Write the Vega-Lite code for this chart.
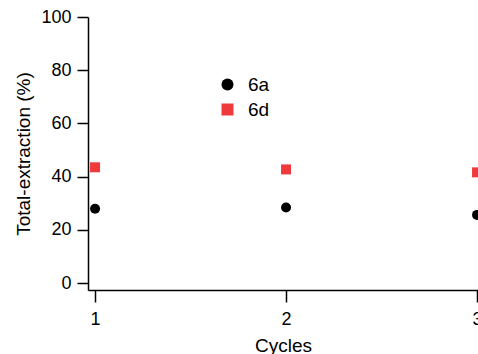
{
  "$schema": "https://vega.github.io/schema/vega-lite/v6.json",
  "autosize": {"type": "none"},
  "width": 390,
  "height": 273,
  "padding": {"left": 88, "top": 17, "right": 0, "bottom": 64},
  "background": "white",
  "config": {
    "view": {"stroke": null},
    "font": "Liberation Sans",
    "axis": {
      "domainColor": "black",
      "domainWidth": 1.5,
      "tickColor": "black",
      "tickWidth": 1.5,
      "labelColor": "black",
      "titleColor": "black",
      "labelFont": "Liberation Sans",
      "titleFont": "Liberation Sans",
      "labelFontSize": 18,
      "titleFontSize": 19,
      "titleFontWeight": "normal",
      "grid": false
    },
    "legend": {
      "labelFont": "Liberation Sans",
      "labelFontSize": 19,
      "labelColor": "black"
    }
  },
  "data": {
    "values": [
      {"cycle": 1, "extraction": 27.9, "sample": "6a"},
      {"cycle": 2, "extraction": 28.4, "sample": "6a"},
      {"cycle": 3, "extraction": 25.6, "sample": "6a"},
      {"cycle": 1, "extraction": 43.5, "sample": "6d"},
      {"cycle": 2, "extraction": 42.7, "sample": "6d"},
      {"cycle": 3, "extraction": 41.6, "sample": "6d"}
    ]
  },
  "mark": {"type": "point", "filled": true, "opacity": 1, "size": 100},
  "encoding": {
    "x": {
      "field": "cycle",
      "type": "quantitative",
      "scale": {"domain": [0.963, 3.005], "nice": false, "zero": false},
      "axis": {
        "title": "Cycles",
        "values": [1, 2, 3],
        "format": ".0f",
        "tickCount": 10,
        "tickSize": 12,
        "labelPadding": 8,
        "titlePadding": 8,
        "labelFlush": false,
        "labelOverlap": false,
        "labelBound": false
      }
    },
    "y": {
      "field": "extraction",
      "type": "quantitative",
      "scale": {"domain": [-2.63, 100], "nice": false, "zero": false},
      "axis": {
        "title": "Total-extraction (%)",
        "values": [0, 20, 40, 60, 80, 100],
        "tickCount": 10,
        "tickSize": 11,
        "labelPadding": 6,
        "titlePadding": 7,
        "labelOverlap": false
      }
    },
    "color": {
      "field": "sample",
      "type": "nominal",
      "scale": {"domain": ["6a", "6d"], "range": ["#000000", "#ee3a3c"]},
      "legend": {
        "title": null,
        "orient": "none",
        "legendX": 130,
        "legendY": 58,
        "padding": 0,
        "symbolSize": 144,
        "labelOffset": 11,
        "rowPadding": 5,
        "symbolStrokeWidth": 0
      }
    },
    "shape": {
      "field": "sample",
      "type": "nominal",
      "scale": {"domain": ["6a", "6d"], "range": ["circle", "square"]}
    }
  }
}
